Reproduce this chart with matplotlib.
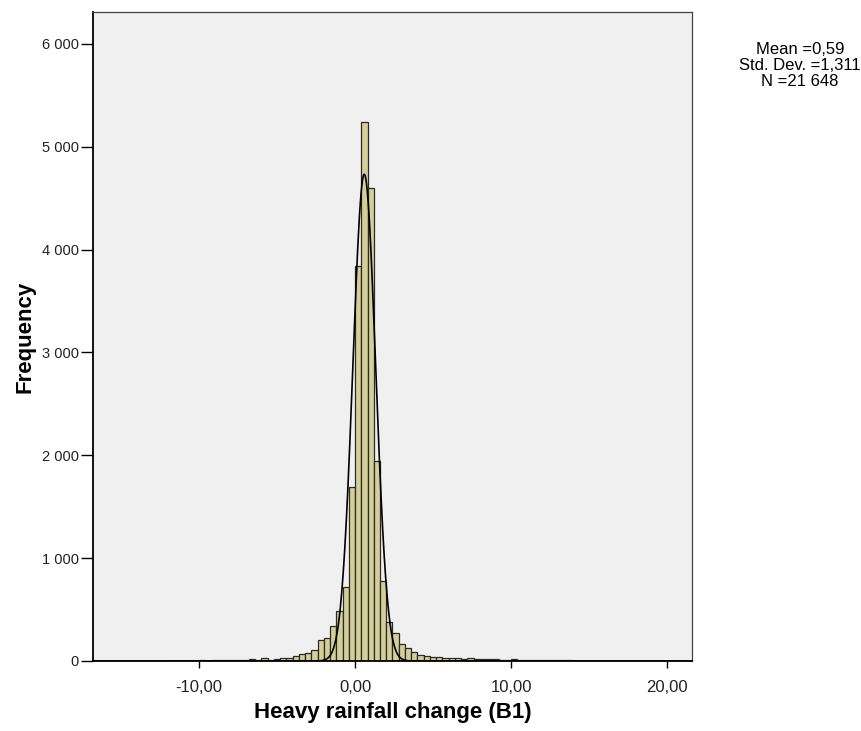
import numpy as np
import matplotlib
matplotlib.use('Agg')
import matplotlib.pyplot as plt
from matplotlib.ticker import FuncFormatter

plt.rcParams['font.family'] = ['Liberation Sans', 'DejaVu Sans']

# histogram data (bin width 0.4, first bin starts at first_edge)
bin_width = 0.4
first_edge = -12.0
counts = [2, 3, 2, 3, 4, 5, 4, 6, 5, 7, 8, 10, 12, 15, 12, 25, 14, 20,
          26, 32, 45, 65, 80, 105, 200, 220, 340, 489, 723, 1693,
          3840, 5240, 4600, 1946, 781, 382, 269, 162, 123, 90, 58, 49, 36,
          36, 34, 28, 25, 22, 25, 20, 18, 22, 15, 14, 12, 15, 10, 9, 8, 10,
          7, 6, 6, 5, 5, 4, 4, 3, 3, 2, 2]

# summary box / normal curve
n_total = 21648
mean_val = 0.59
std_text = '1,311'
curve_sd = 0.73   # width of the drawn curve

x_ticks = [-10, 0, 10, 20]
y_ticks = [0, 1000, 2000, 3000, 4000, 5000, 6000]

edges = first_edge + bin_width * np.arange(len(counts))

fig = plt.figure(figsize=(8.62, 7.31), dpi=100)
ax = fig.add_axes([93 / 862, 70 / 731, 599 / 862, 649 / 731])
ax.set_facecolor('#f0f0f0')

ax.bar(edges, counts, width=bin_width, align='edge', color='#d4cf98',
       edgecolor='#2a2a2a', linewidth=0.9, zorder=2)

xs = np.linspace(-16.8, 21.6, 1200)
ys = n_total * bin_width / (curve_sd * np.sqrt(2 * np.pi)) * np.exp(-0.5 * ((xs - mean_val) / curve_sd) ** 2)
ax.plot(xs, ys, color='black', linewidth=1.2, zorder=3)

ax.set_xlim(-16.8, 21.6)
ax.set_ylim(0, 6310)
ax.set_xticks(x_ticks)
ax.set_yticks(y_ticks)
ax.xaxis.set_major_formatter(FuncFormatter(lambda v, p: f'{v:.2f}'.replace('.', ',')))
ax.yaxis.set_major_formatter(FuncFormatter(lambda v, p: f'{int(v):,}'.replace(',', ' ')))
ax.tick_params(axis='y', direction='out', length=9, width=1, labelsize=10.5,
               colors='black', labelcolor='#222222', pad=1)
ax.tick_params(axis='x', direction='out', length=5, width=1, labelsize=12,
               colors='black', labelcolor='#222222', pad=9)

for side in ['top', 'right']:
    ax.spines[side].set_color('#444444')
    ax.spines[side].set_linewidth(0.9)
for side in ['left', 'bottom']:
    ax.spines[side].set_color('black')
    ax.spines[side].set_linewidth(1.3)

ax.set_xlabel('Heavy rainfall change (B1)', fontsize=16, fontweight='bold', labelpad=5)
ax.set_ylabel('Frequency', fontsize=16, fontweight='bold', labelpad=5)

stats = (f'Mean ={mean_val:.2f}'.replace('.', ',') + '\n'
         + f'Std. Dev. ={std_text}\n'
         + f'N ={n_total:,}'.replace(',', ' '))
fig.text(800 / 862, 1 - 42 / 731, stats, ha='center', va='top', fontsize=12, linespacing=1.1)

fig.savefig('out.png', dpi=100)
